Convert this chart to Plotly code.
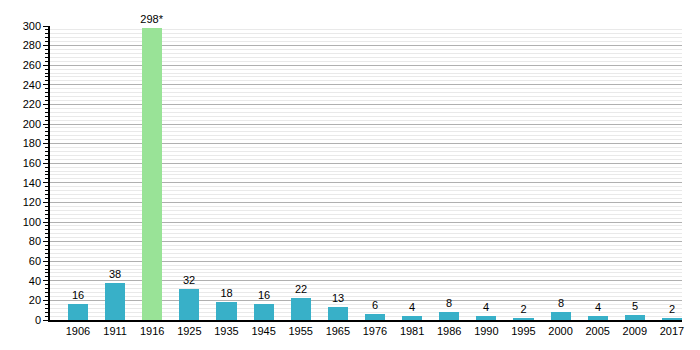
import plotly.graph_objects as go

years = ["1906", "1911", "1916", "1925", "1935", "1945", "1955", "1965", "1976",
         "1981", "1986", "1990", "1995", "2000", "2005", "2009", "2017"]
values = [16, 38, 298, 32, 18, 16, 22, 13, 6, 4, 8, 4, 2, 8, 4, 5, 2]
labels = [str(v) for v in values]
labels[2] = "298*"
teal = "#38b0c8"
green = "#99e397"
colors = [green if y == "1916" else teal for y in years]

x = list(range(len(years)))

fig = go.Figure(go.Bar(
    x=x, y=values, marker=dict(color=colors, line=dict(width=0)),
    width=0.54, text=labels, textposition="outside", constraintext="none",
    textfont=dict(size=11, color="#000"), cliponaxis=False,
))

fig.update_layout(
    width=700, height=350,
    margin=dict(l=50, r=18, t=26, b=30),
    plot_bgcolor="white", paper_bgcolor="white",
    font=dict(family="Liberation Sans, Arial, sans-serif", size=11, color="#000"),
    showlegend=False,
    bargap=0,
)
fig.update_xaxes(
    tickmode="array", tickvals=x, ticktext=years,
    range=[-0.754, 16.27], showgrid=False, showline=True,
    linecolor="#000", linewidth=1.5, ticks="", zeroline=False,
    tickfont=dict(size=11),
)
fig.update_yaxes(
    range=[0, 300], dtick=20, tick0=0, showgrid=True, gridcolor="#b0b0b0", gridwidth=1,
    showline=True, linecolor="#000", linewidth=1.5, ticks="outside", ticklen=5,
    tickcolor="#000", zeroline=False, tickfont=dict(size=11),
    minor=dict(dtick=4, tick0=0, showgrid=True, gridcolor="#e9e9e9", gridwidth=1,
               ticks="outside", ticklen=3, tickcolor="#000"),
)

fig.write_html("out.html")
